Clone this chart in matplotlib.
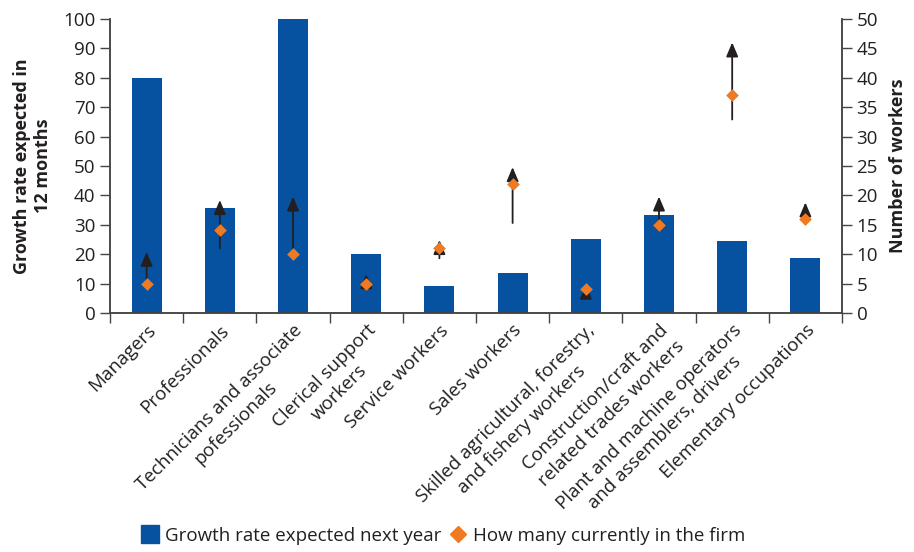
import matplotlib.pyplot as plt
from matplotlib.lines import Line2D

plt.rcParams['font.family'] = ['Open Sans', 'DejaVu Sans']

# Occupation groups along the x axis
categories = [
    'Managers',
    'Professionals',
    'Technicians and associate\npofessionals',
    'Clerical support\nworkers',
    'Service workers',
    'Sales workers',
    'Skilled agricultural, forestry,\nand fishery workers',
    'Construction/craft and\nrelated trades workers',
    'Plant and machine operators\nand assemblers, drivers',
    'Elementary occupations',
]

# Left axis: growth rate expected next year (%)
growth_rate = [80, 35.8, 100, 20, 9.2, 13.6, 25.2, 33.3, 24.5, 18.7]

# Right axis: number currently in the firm, plus expected range (arrows)
current_workers = [5, 14.1, 10, 5, 11, 22, 4, 15, 37, 16]
arrow_low = [5, 11, 10, 5, 9.3, 15.3, 2.5, 14.1, 32.9, 15.1]
arrow_high = [10.4, 19.2, 19.8, 6.6, 12.4, 24.8, 4.8, 19.8, 46, 18.8]

blue = '#0652a0'
orange = '#f07a22'
dark = '#231f20'
fs = 13.5

fig = plt.figure(figsize=(9.14, 5.52), dpi=100)
ax = fig.add_axes([0.1204, 0.433, 0.8008, 0.5327])
ax2 = ax.twinx()

x = list(range(len(categories)))
ax.bar(x, growth_rate, width=0.41, color=blue, zorder=2)

ax.set_xlim(-0.5, len(categories) - 0.5)
ax.set_ylim(0, 100)
ax.set_yticks(range(0, 101, 10))
ax2.set_ylim(0, 50)
ax2.set_yticks(range(0, 51, 5))

# Arrows showing where each group is expected to go
for xi, lo, hi in zip(x, arrow_low, arrow_high):
    ax2.annotate('', xy=(xi, hi), xytext=(xi, lo),
                 arrowprops=dict(arrowstyle='-|>,head_length=0.85,head_width=0.36',
                                 color=dark, lw=1.3, shrinkA=0, shrinkB=0),
                 zorder=3)
ax2.scatter(x, current_workers, marker='D', s=42, color=orange, zorder=4,
            linewidths=0)

# Category ticks sit between the bars
ax.set_xticks([i - 0.5 for i in range(len(categories) + 1)])
ax.set_xticklabels([])
ax.set_xticks(x, minor=True)
ax.set_xticklabels(categories, minor=True, rotation=45, ha='right',
                   rotation_mode='anchor', multialignment='center',
                   fontsize=fs, color=dark, linespacing=1.3)
ax.tick_params(axis='x', which='minor', length=0, pad=6)
ax.tick_params(axis='x', which='major', length=7, width=1, color='#444444',
               direction='out')

for a in (ax, ax2):
    a.spines['top'].set_visible(False)
    for s in ('left', 'right', 'bottom'):
        a.spines[s].set_color('#444444')
        a.spines[s].set_linewidth(1.1)
    a.tick_params(axis='y', length=7, width=1, color='#444444',
                  labelsize=fs, labelcolor=dark, direction='out')

ax.set_ylabel('Growth rate expected in\n12 months', fontsize=13,
              fontweight='bold', color=dark, labelpad=8)
ax2.set_ylabel('Number of workers', fontsize=13, fontweight='bold',
               color=dark, labelpad=8)

handles = [
    Line2D([], [], marker='s', linestyle='none', color=blue, markersize=13),
    Line2D([], [], marker='D', linestyle='none', color=orange, markersize=8),
]
fig.legend(handles, ['Growth rate expected next year', 'How many currently in the firm'],
           loc='lower center', bbox_to_anchor=(0.483, -0.018), ncol=2, frameon=False,
           fontsize=fs, handletextpad=0.1, handlelength=1.4, columnspacing=0.2,
           labelcolor=dark)

fig.savefig('out.png', dpi=100)
